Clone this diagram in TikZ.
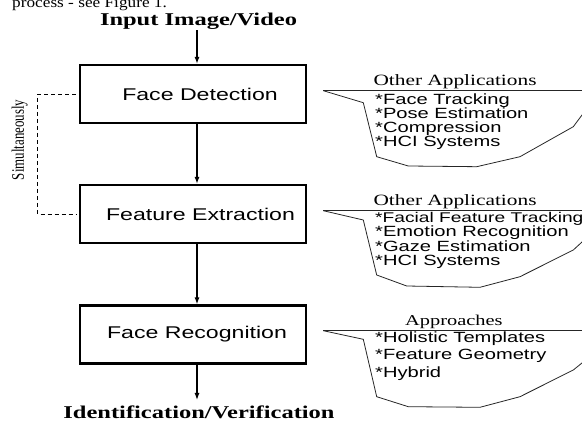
\documentclass[tikz,border=0pt]{standalone}
\usepackage{fontspec}
\setmainfont{Liberation Serif}
\setsansfont{Liberation Sans}
\usetikzlibrary{arrows.meta,calc}
\newcommand{\hs}[1]{\scalebox{1.36}[1]{#1}}
\begin{document}
\begin{tikzpicture}[x=1pt,y=-1pt,
  stage/.style={draw, line width=2.2pt, minimum width=226pt, minimum height=58pt, inner sep=0pt, font=\sffamily\fontsize{17}{20}\selectfont},
  flow/.style={line width=1.2pt, -{Latex[length=7pt,width=5pt]}},
  callout/.style={draw=black!85, line width=0.8pt},
  simul/.style={line width=0.9pt, dash pattern=on 4pt off 3pt},
  ttl/.style={anchor=base west, inner sep=0pt, font=\fontsize{15.7}{18}\selectfont},
  item/.style={anchor=base west, inner sep=0pt, font=\sffamily\fontsize{14.8}{18}\selectfont},
  bigtxt/.style={anchor=base, inner sep=0pt, font=\bfseries\fontsize{18}{20}\selectfont}
]
\useasboundingbox (0,0) rectangle (582,422);
\clip (0,0) rectangle (582,422);

% cut-off caption line at the top
\node[anchor=base west, inner sep=0pt, font=\fontsize{15}{17}\selectfont] (cap) at (12,8) {\scalebox{1.15}[1]{process - see Figure 1.}};

% main chain
\node[bigtxt] (in) at (198.5,26) {\hs{Input Image/Video}};
\node[stage] (fd) at (193,94) {\hspace*{14pt}\hs{Face Detection}};
\node[stage] (fe) at (193,214) {\hspace*{15pt}\hs{Feature Extraction}};
\node[stage] (fr) at (193,334.5) {\hspace*{8pt}\hs{Face Recognition}};
\node[bigtxt] (out) at (199,419) {\hs{Identification/Verification}};
\coordinate (outtip) at (197,400);

\draw[flow] (in.south -| outtip) -- (fd.north -| outtip);
\draw[flow] (fd.south -| outtip) -- (fe.north -| outtip);
\draw[flow] (fe.south -| outtip) -- (fr.north -| outtip);
\draw[flow] (fr.south -| outtip) -- (outtip);

% simultaneously bracket
\coordinate (sb) at (37.7,0);
\draw[simul] ([xshift=-3pt]fd.west) -- (fd.west -| sb) -- (fe.west -| sb) -- ([xshift=-3pt]fe.west);
\node[rotate=90, inner sep=0pt, font=\fontsize{12.9}{15}\selectfont] (sim) at (19.7,140) {\scalebox{1}[1.36]{Simultaneously}};

% callout 1
\draw[callout] (323.3,90.7) -- (590,90.7);
\draw[callout] (590,108) -- (582,115) -- (573.3,126.7) -- (520,156.7) -- (476.7,166.7) -- (408.3,166) -- (376.7,156.7) -- (363.3,102.7) -- (323.3,90.7);
\node[ttl] (t1) at (373.3,86) {\hs{Other Applications}};
\node[item] (a1) at (375,104.5) {\hs{*Face Tracking}};
\node[item] (a2) at (375,118.5) {\hs{*Pose Estimation}};
\node[item] (a3) at (375,132.5) {\hs{*Compression}};
\node[item] (a4) at (375,146.5) {\hs{*HCI Systems}};

% callout 2
\draw[callout] (323.3,210.7) -- (590,210.7);
\draw[callout] (590,235) -- (582,242) -- (573.3,250) -- (520,276.7) -- (480,287.3) -- (406.7,286) -- (376.7,275) -- (363.3,220) -- (323.3,210.7);
\node[ttl] (t2) at (373.3,206) {\hs{Other Applications}};
\node[item, font=\sffamily\fontsize{14.1}{18}\selectfont] (b1) at (375,222.5) {\hs{*Facial Feature Tracking}};
\node[item] (b2) at (375,237) {\hs{*Emotion Recognition}};
\node[item] (b3) at (375,251.5) {\hs{*Gaze Estimation}};
\node[item] (b4) at (375,266) {\hs{*HCI Systems}};

% callout 3
\draw[callout] (323.3,330.7) -- (590,330.7);
\draw[callout] (590,356) -- (582,363) -- (573.3,370) -- (520,396.7) -- (480,407.3) -- (408.3,406.7) -- (376.7,396.7) -- (363.3,339.3) -- (323.3,330.7);
\node[ttl, font=\fontsize{15}{18}\selectfont] (t3) at (405,326) {\hs{Approaches}};
\node[item] (c1) at (375,342.7) {\hs{*Holistic Templates}};
\node[item] (c2) at (375,360) {\hs{*Feature Geometry}};
\node[item] (c3) at (375,377.3) {\hs{*Hybrid}};
\end{tikzpicture}
\end{document}
